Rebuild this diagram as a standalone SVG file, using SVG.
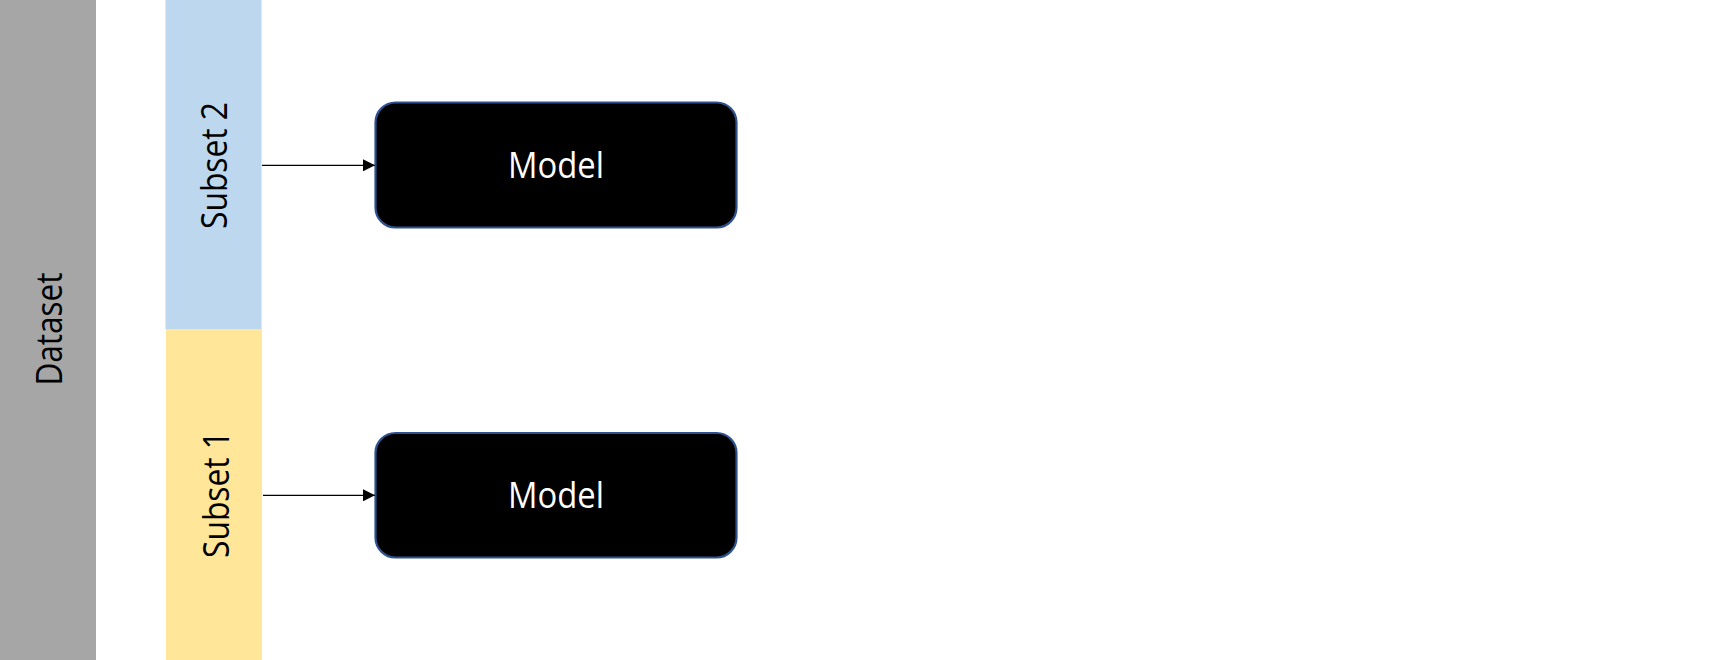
<svg xmlns="http://www.w3.org/2000/svg" width="1710" height="660" viewBox="0 0 1710 660">
  <style>
    .lbl { font-family: "Open Sans", "Liberation Sans", sans-serif; font-size: 36px; fill: #000000; }
    .mlbl { font-family: "Open Sans", "Liberation Sans", sans-serif; font-size: 36px; fill: #FFFFFF; }
    .model { fill: #000000; stroke: #2F528F; stroke-width: 2.2; }
    .conn { stroke: #000000; stroke-width: 1.3; fill: none; }
  </style>
  <defs>
    <marker id="arrow" viewBox="0 0 12 12" refX="12" refY="6" markerWidth="12" markerHeight="12" markerUnits="userSpaceOnUse" orient="auto">
      <path d="M0,0 L12,6 L0,12 Z" fill="#000000"/>
    </marker>
  </defs>
  <rect width="1710" height="660" fill="#FFFFFF"/>
  <g id="dataset">
    <rect x="0" y="0" width="96" height="660" fill="#A6A6A6"/>
    <text class="lbl" transform="translate(62,329) rotate(-90)" text-anchor="middle" textLength="113" lengthAdjust="spacingAndGlyphs">Dataset</text>
  </g>
  <g id="subset2">
    <rect x="165.5" y="0" width="96" height="329.5" fill="#BDD7EE"/>
    <text class="lbl" transform="translate(227,165.5) rotate(-90)" text-anchor="middle" textLength="127" lengthAdjust="spacingAndGlyphs">Subset 2</text>
  </g>
  <g id="subset1">
    <rect x="166" y="329.5" width="96" height="330.5" fill="#FFE699"/>
    <text class="lbl" transform="translate(229,494.5) rotate(-90)" text-anchor="middle" textLength="127" lengthAdjust="spacingAndGlyphs">Subset 1</text>
  </g>
  <g id="model2">
    <rect class="model" x="375.5" y="102.5" width="361" height="125" rx="20" ry="20"/>
    <text class="mlbl" x="556" y="178" text-anchor="middle" textLength="96" lengthAdjust="spacingAndGlyphs">Model</text>
  </g>
  <g id="model1">
    <rect class="model" x="375.5" y="433" width="361" height="124.5" rx="20" ry="20"/>
    <text class="mlbl" x="556" y="508" text-anchor="middle" textLength="96" lengthAdjust="spacingAndGlyphs">Model</text>
  </g>
  <g id="connectors">
    <line class="conn" x1="262" y1="165.3" x2="375" y2="165.3" marker-end="url(#arrow)"/>
    <line class="conn" x1="263" y1="495.3" x2="375" y2="495.3" marker-end="url(#arrow)"/>
  </g>
</svg>
